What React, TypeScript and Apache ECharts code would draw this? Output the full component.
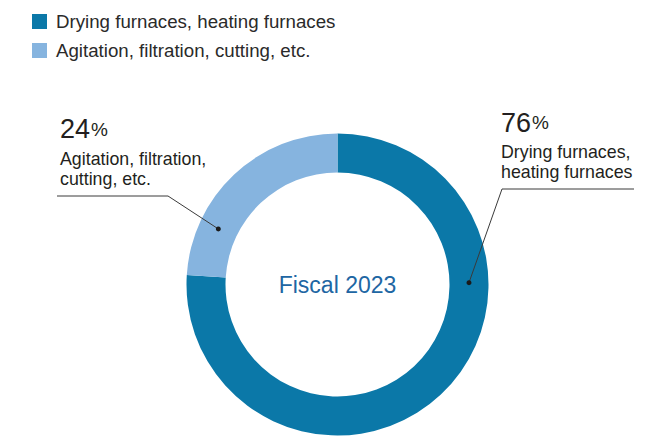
import React, { useEffect, useRef } from "react";
import * as echarts from "echarts";

const categories = ["Drying furnaces, heating furnaces", "Agitation, filtration, cutting, etc."];
const shares = [76, 24];
const labelLines = [
  ["Drying furnaces,", "heating furnaces"],
  ["Agitation, filtration,", "cutting, etc."],
];
const centerLabel = "Fiscal 2023";

const COLORS = ["#0B78A8", "#86B4DF"];
const FONT = "'Liberation Sans', Arial, Helvetica, sans-serif";
const CX = 337.5;
const CY = 284.5;
const R_IN = 112;
const R_OUT = 151;

// annotation layout (angle in degrees where each leader line ends on the ring)
const ann = [
  { angle: 0.8, textX: 501, pctY: 122.5, textY: 141.3, lineY: 189, lineX1: 502, lineX2: 634 },
  { angle: 155, textX: 60, pctY: 129, textY: 148.6, lineY: 196, lineX1: 168, lineX2: 57 },
];

export default function App() {
  const ref = useRef<HTMLDivElement>(null);
  useEffect(() => {
    if (!ref.current) return;
    const chart = echarts.init(ref.current, undefined, { renderer: "svg" });
    const rMid = (R_IN + R_OUT) / 2;
    const graphics: any[] = [
      {
        type: "text",
        x: CX,
        y: CY,
        z: 100,
        style: {
          text: centerLabel,
          fill: "#2066A3",
          font: `23px ${FONT}`,
          textAlign: "center",
          textVerticalAlign: "middle",
        },
      },
    ];
    ann.forEach((a, i) => {
      const rad = (a.angle * Math.PI) / 180;
      const dx = CX + rMid * Math.cos(rad);
      const dy = CY - rMid * Math.sin(rad);
      graphics.push({
        type: "text",
        x: a.textX,
        y: a.pctY,
        z: 100,
        style: {
          text: `{n|${shares[i]}}{p|%}`,
          textVerticalAlign: "middle",
          textAlign: "left",
          rich: {
            n: { fontSize: 27, fontFamily: FONT, fill: "#231F20", color: "#231F20" },
            p: { fontSize: 19, fontFamily: FONT, fill: "#231F20", color: "#231F20", padding: [0, 0, 0, 1] },
          },
        },
      });
      graphics.push({
        type: "text",
        x: a.textX,
        y: a.textY,
        z: 100,
        style: {
          text: labelLines[i].join("\n"),
          fill: "#231F20",
          fontSize: 17.8,
          fontFamily: FONT,
          lineHeight: 20.5,
          textAlign: "left",
          textVerticalAlign: "top",
        },
      });
      graphics.push({
        type: "polyline",
        z: 100,
        shape: {
          points: [
            [a.lineX2, a.lineY],
            [a.lineX1, a.lineY],
            [dx, dy],
          ],
        },
        style: { stroke: "#3a3a3a", lineWidth: 1, fill: "none" },
      });
      graphics.push({
        type: "circle",
        z: 101,
        shape: { cx: dx, cy: dy, r: 2.5 },
        style: { fill: "#1a1a1a" },
      });
    });

    chart.setOption({
      animation: false,
      backgroundColor: "#ffffff",
      color: COLORS,
      legend: {
        orient: "vertical",
        left: 32,
        top: 12,
        padding: 0,
        icon: "rect",
        itemWidth: 15,
        itemHeight: 15,
        itemGap: 10,
        selectedMode: false,
        textStyle: {
          fontSize: 18.7,
          lineHeight: 18,
          fontFamily: FONT,
          color: "#2a2a2a",
          padding: [0, 0, 0, 4],
        },
        data: categories,
      },
      series: [
        {
          type: "pie",
          center: [CX, CY],
          radius: [R_IN, R_OUT],
          startAngle: 90,
          clockwise: true,
          label: { show: false },
          labelLine: { show: false },
          emphasis: { disabled: true },
          silent: true,
          itemStyle: { borderWidth: 0 },
          data: categories.map((c, i) => ({ name: c, value: shares[i] })),
        },
      ],
      graphic: graphics,
    });
    return () => chart.dispose();
  }, []);
  return (
    <div
      ref={ref}
      style={{ position: "absolute", left: 0, top: 0, width: 672, height: 436 }}
    />
  );
}
